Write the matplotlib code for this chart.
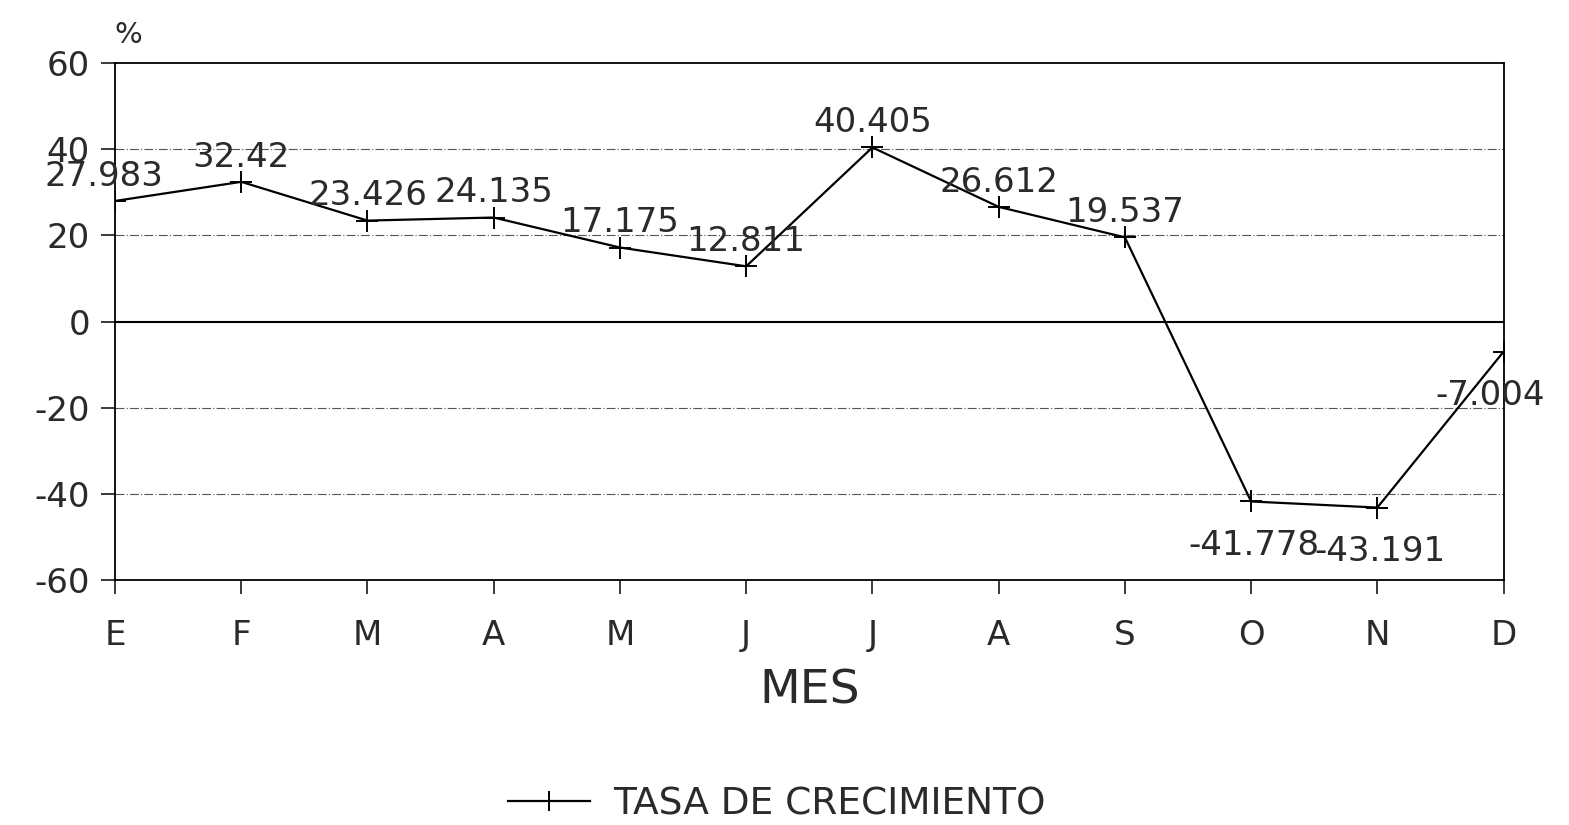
import matplotlib.pyplot as plt

meses = ["E", "F", "M", "A", "M", "J", "J", "A", "S", "O", "N", "D"]
tasa = [27.983, 32.42, 23.426, 24.135, 17.175, 12.811, 40.405,
        26.612, 19.537, -41.778, -43.191, -7.004]
etiquetas = ["27.983", "32.42", "23.426", "24.135", "17.175", "12.811", "40.405",
             "26.612", "19.537", "-41.778", "-43.191", "-7.004"]

plt.rcParams['font.family'] = ['DejaVu Sans']
plt.rcParams['axes.unicode_minus'] = False
gris = '#2a2a2a'

fig = plt.figure(figsize=(15.69, 8.25), dpi=100)
ax = fig.add_axes([0.0733, 0.297, 0.885, 0.6266])

x = list(range(len(meses)))
ax.plot(x, tasa, color='black', lw=1.6, marker='+', ms=16, mew=1.4,
        label='TASA DE CRECIMIENTO')

for xi, v, t in zip(x, tasa, etiquetas):
    if v >= 0:
        dx = -8 if xi == 0 else 0
        ax.annotate(t, (xi, v), xytext=(dx, 6), textcoords='offset points',
                    ha='center', va='bottom', fontsize=24.5, color=gris)
    else:
        dx = -10 if xi == len(meses) - 1 else 2
        ax.annotate(t, (xi, v), xytext=(dx, -20), textcoords='offset points',
                    ha='center', va='top', fontsize=24.5, color=gris)

ax.set_xlim(0, len(meses) - 1)
ax.set_ylim(-60, 60)
ax.set_yticks([-60, -40, -20, 0, 20, 40, 60])
ax.set_xticks(x)
ax.set_xticklabels(meses)
ax.tick_params(axis='both', labelsize=24.5, length=10, width=1.3, colors=gris)
ax.tick_params(axis='x', pad=18)
ax.tick_params(axis='y', pad=8)

for g in [-40, -20, 20, 40]:
    ax.axhline(g, color='#555555', lw=0.8, ls=(0, (8, 2, 1, 2)), zorder=0)
ax.axhline(0, color='black', lw=1.5, zorder=1)

for s in ax.spines.values():
    s.set_linewidth(1.3)

ax.set_xlabel("MES", fontsize=34, color=gris, labelpad=12)
fig.text(0.082, 0.958, "%", fontsize=21, ha='center', va='center', color=gris)

fig.legend(loc='center', bbox_to_anchor=(0.495, 0.025), frameon=False,
           fontsize=27, handlelength=2.2, handletextpad=0.6, markerscale=0.9,
           labelcolor=gris)

fig.savefig("out.png", dpi=100)
